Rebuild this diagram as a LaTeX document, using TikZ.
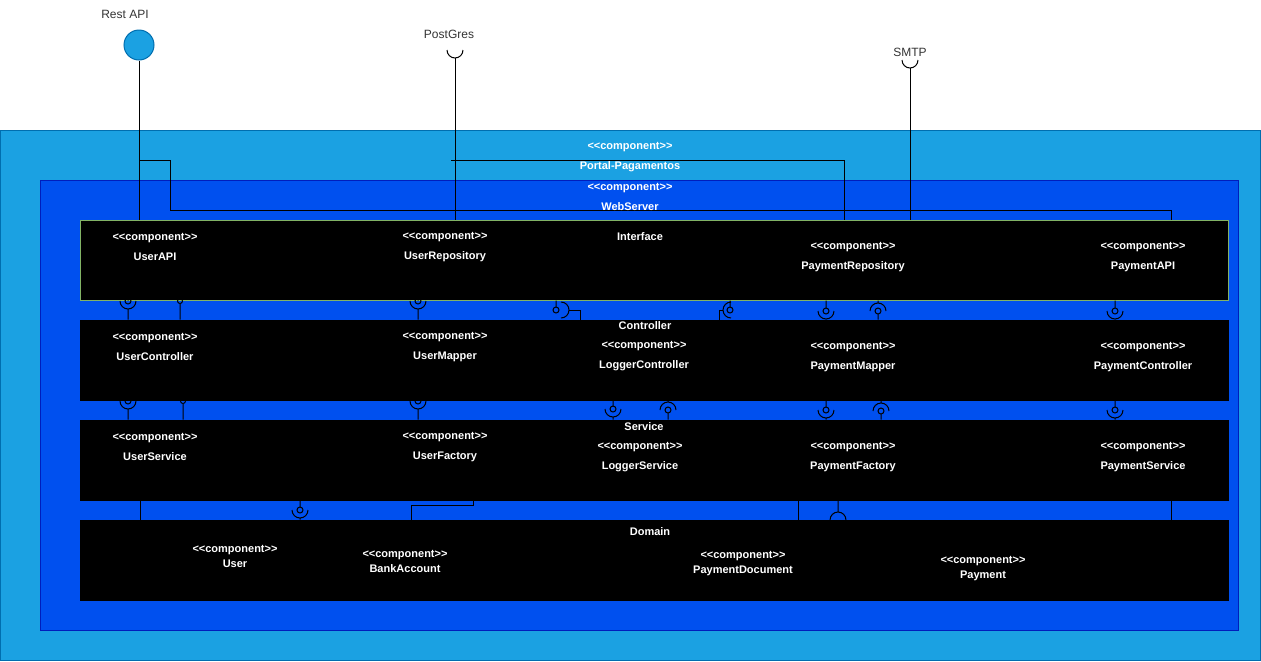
\documentclass[tikz,border=0pt]{standalone}
\usepackage{fontspec}
\setmainfont{Liberation Sans}
\usetikzlibrary{positioning}
\usetikzlibrary{fit}
\definecolor{portalblue}{HTML}{1BA1E2}
\definecolor{portalline}{HTML}{006EAF}
\definecolor{webblue}{HTML}{0050EF}
\definecolor{webline}{HTML}{001DBC}
\definecolor{ifline}{HTML}{82B366}
\definecolor{labelgray}{HTML}{333333}
\newcommand{\stereo}{<{}<component>{}>}

\begin{document}
\begin{tikzpicture}[x=0.75pt,y=-0.75pt,
  wire/.style={draw=black,line width=0.75pt},
  box/.style={inner sep=0pt,line width=0.75pt},
  outerbox/.style={box,fill=portalblue,draw=portalline},
  webbox/.style={box,fill=webblue,draw=webline},
  layer/.style={box,fill=black,draw=black},
  ttl/.style={text=white,inner sep=0pt,align=center,yshift=-1.2pt,font=\fontsize{8.25}{15}\selectfont\bfseries},
  comp/.style={ttl},
  dcomp/.style={ttl,font=\fontsize{8.25}{11.25}\selectfont\bfseries},
  extlabel/.style={text=labelgray,inner sep=0pt,font=\fontsize{9}{11}\selectfont}]
\useasboundingbox (0,0) rectangle (1261,661);
% containers
\path node[outerbox,fit={(0,130) (1260,660)}] (portal) {};
\path node[webbox,fit={(40,180) (1238,630)}] (web) {};
\path node[layer,draw=ifline,fit={(80,220) (1228,300)}] (iface) {};
\path node[layer,fit={(80,320) (1228,400)}] (ctrl) {};
\path node[layer,fit={(80,420) (1228,500)}] (serv) {};
\path node[layer,fit={(80,520) (1228,600)}] (dom) {};
% external interfaces
\path node[circle,fill=portalblue,draw=portalline,line width=0.75pt,minimum size=22.5pt,inner sep=0pt] (rest) at (139,45) {};
\path node[extlabel] (restlbl) at (125,14.5) {Rest API};
\path node[extlabel] (pglbl) at (449,34) {PostGres};
\path node[extlabel] (smtplbl) at (910,52.5) {SMTP};
\coordinate (pg) at (455,58);
\coordinate (smtp) at (910,68);
\draw[wire] (463,50) arc[start angle=0,end angle=180,radius=8];
\draw[wire] (918,60) arc[start angle=0,end angle=180,radius=8];
\draw[wire] (rest) -- (rest |- iface.north);
\draw[wire] (rest |- 0,160) -| (170,210) -| (1171,0 |- iface.north);
\draw[wire] (pg) -- (pg |- iface.north);
\draw[wire] (451,160) -| (844,0 |- iface.north);
\draw[wire] (smtp) -- (smtp |- iface.north);
% ball from above, socket from below
\foreach \x/\c/\up/\dn in {128/301/iface/ctrl,418/301/iface/ctrl,826/311/iface/ctrl,1115/311/iface/ctrl,
  128/401/ctrl/serv,418/401/ctrl/serv,613/409/ctrl/serv,826/410/ctrl/serv,1115/410/ctrl/serv,300/510/serv/dom}
  \draw[wire] (\x,0 |- \up.south) -- (\x,\c-3) (\x,\c) circle[radius=3]
    (\x+8,\c) arc[start angle=0,end angle=180,radius=8] (\x,\c+8) -- (\x,0 |- \dn.north);
% socket from above, ball from below
\foreach \x/\c/\up/\dn in {878/311/iface/ctrl,668/410/ctrl/serv,881/411/ctrl/serv}
  \draw[wire] (\x,0 |- \up.south) -- (\x,\c-8) (\x-8,\c) arc[start angle=180,end angle=360,radius=8]
    (\x,\c) circle[radius=3] (\x,\c+3) -- (\x,0 |- \dn.north);
\draw[wire] (838,0 |- serv.south) -- (838,512) (830,520) arc[start angle=180,end angle=360,radius=8];
% small balls
\foreach \x/\c/\dn in {180/301/ctrl,183/401/serv}
  \draw[wire] (\x,\c) circle[radius=2.5] (\x,\c+2.5) -- (\x,0 |- \dn.north);
% sideways sockets
\draw[wire] (556,0 |- iface.south) -- (556,307) (556,310) circle[radius=3]
  (561,302) arc[start angle=-90,end angle=90,radius=8];
\draw[wire] (569,310) -| (580,0 |- ctrl.north);
\draw[wire] (730,0 |- iface.south) -- (730,307) (730,310) circle[radius=3]
  (731,302) arc[start angle=270,end angle=90,radius=8];
\draw[wire] (723,310) -| (719,0 |- ctrl.north);
% plain links service -> domain
\foreach \x in {140,798,1171}
  \draw[wire] (\x,0 |- serv.south) -- (\x,0 |- dom.north);
\draw[wire] (411,0 |- dom.north) |- (473,505) -- (473,0 |- serv.south);
% titles
\path node[ttl] (portalttl) at (630,155) {\stereo\\Portal-Pagamentos};
\path node[ttl] (webttl) at (630,195) {\stereo\\WebServer};
\path node[ttl] (ifttl) at (640,235) {Interface};
\path node[ttl] (ctrlttl) at (645,324) {Controller};
\path node[ttl] (servttl) at (644,425) {Service};
\path node[ttl] (domttl) at (650,530) {Domain};
% interface layer
\path node[comp] (userapi) at (155,245) {\stereo\\UserAPI};
\path node[comp] (userrepo) at (445,245) {\stereo\\UserRepository};
\path node[comp] (payrepo) at (853,255) {\stereo\\PaymentRepository};
\path node[comp] (payapi) at (1143,255) {\stereo\\PaymentAPI};
% controller layer
\path node[comp] (userctrl) at (155,345) {\stereo\\UserController};
\path node[comp] (usermap) at (445,345) {\stereo\\UserMapper};
\path node[comp] (logctrl) at (644,354) {\stereo\\LoggerController};
\path node[comp] (paymap) at (853,355) {\stereo\\PaymentMapper};
\path node[comp] (payctrl) at (1143,355) {\stereo\\PaymentController};
% service layer
\path node[comp] (userserv) at (155,445) {\stereo\\UserService};
\path node[comp] (userfact) at (445,445) {\stereo\\UserFactory};
\path node[comp] (logserv) at (640,455) {\stereo\\LoggerService};
\path node[comp] (payfact) at (853,455) {\stereo\\PaymentFactory};
\path node[comp] (payserv) at (1143,455) {\stereo\\PaymentService};
% domain layer
\path node[dcomp] (user) at (235,555) {\stereo\\User};
\path node[dcomp] (bank) at (405,560) {\stereo\\BankAccount};
\path node[dcomp] (paydoc) at (743,562) {\stereo\\PaymentDocument};
\path node[dcomp] (pay) at (983,567) {\stereo\\Payment};
\end{tikzpicture}
\end{document}
